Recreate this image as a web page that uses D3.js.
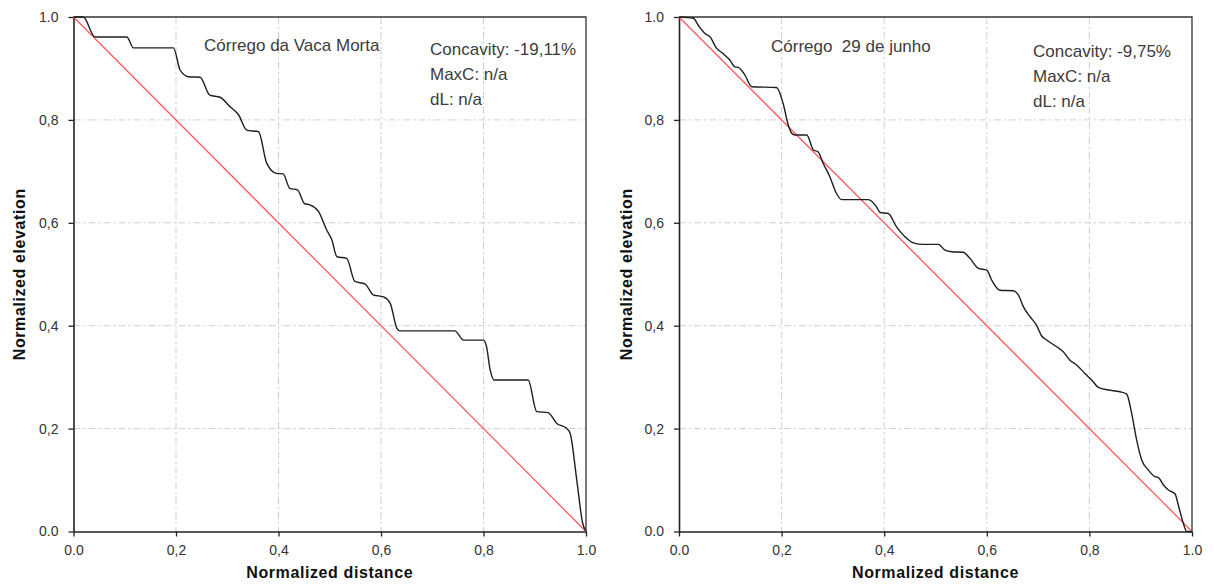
<!DOCTYPE html>
<html>
<head>
<meta charset="utf-8">
<script src="https://cdn.jsdelivr.net/npm/d3@7/dist/d3.min.js"></script>
<style>
  html, body { margin: 0; padding: 0; background: #fff; }
  svg { display: block; font-family: "Liberation Sans", Arial, sans-serif; }
</style>
</head>
<body>
<svg id="chart" width="1214" height="587"></svg>
<script>
// Normalized longitudinal profiles of two streams (distance vs. elevation)
const tickValues = [0, 0.2, 0.4, 0.6, 0.8, 1.0];
const tickLabels = ["0.0", "0,2", "0,4", "0,6", "0,8", "1.0"];

const vacaMortaX = [0, 0.019, 0.042, 0.104, 0.117, 0.195, 0.208, 0.224, 0.247, 0.266, 0.286, 0.305, 0.322, 0.338, 0.361, 0.377, 0.396, 0.409, 0.422, 0.437, 0.451, 0.461, 0.478, 0.494, 0.504, 0.514, 0.533, 0.549, 0.569, 0.585, 0.605, 0.618, 0.631, 0.637, 0.744, 0.761, 0.800, 0.806, 0.813, 0.821, 0.887, 0.904, 0.926, 0.943, 0.962, 0.969, 0.982, 0.9935, 1.0];
const vacaMortaY = [1.0, 1.0, 0.961, 0.961, 0.940, 0.940, 0.897, 0.884, 0.883, 0.848, 0.844, 0.826, 0.810, 0.780, 0.777, 0.716, 0.696, 0.695, 0.667, 0.664, 0.637, 0.635, 0.622, 0.586, 0.567, 0.534, 0.531, 0.486, 0.481, 0.460, 0.456, 0.4435, 0.395, 0.390, 0.390, 0.372, 0.372, 0.359, 0.314, 0.2945, 0.2945, 0.233, 0.231, 0.210, 0.2006, 0.191, 0.100, 0.016, 0.0];

const junhoX = [0, 0.028, 0.0376, 0.0507, 0.060, 0.0734, 0.086, 0.0994, 0.109, 0.1156, 0.1286, 0.1417, 0.190, 0.203, 0.213, 0.2196, 0.226, 0.249, 0.262, 0.271, 0.281, 0.294, 0.307, 0.317, 0.369, 0.385, 0.392, 0.408, 0.424, 0.4405, 0.4567, 0.476, 0.5055, 0.5185, 0.5316, 0.554, 0.567, 0.5834, 0.600, 0.6095, 0.6257, 0.6517, 0.6614, 0.6712, 0.6842, 0.697, 0.707, 0.7167, 0.736, 0.749, 0.762, 0.775, 0.7914, 0.8045, 0.8174, 0.8369, 0.8596, 0.8727, 0.8824, 0.8921, 0.902, 0.9149, 0.928, 0.934, 0.9444, 0.954, 0.967, 0.9733, 0.983, 0.9896, 1.0];
const junhoY = [1.0, 0.9975, 0.984, 0.968, 0.962, 0.939, 0.929, 0.916, 0.903, 0.902, 0.887, 0.8645, 0.863, 0.832, 0.790, 0.774, 0.7707, 0.7707, 0.7415, 0.738, 0.7157, 0.6896, 0.657, 0.645, 0.645, 0.631, 0.620, 0.618, 0.592, 0.573, 0.561, 0.558, 0.558, 0.547, 0.5438, 0.5427, 0.531, 0.5116, 0.508, 0.4888, 0.469, 0.468, 0.4597, 0.437, 0.4175, 0.401, 0.380, 0.3722, 0.359, 0.3495, 0.333, 0.3236, 0.307, 0.2945, 0.280, 0.275, 0.2717, 0.267, 0.2297, 0.178, 0.139, 0.1195, 0.1065, 0.1053, 0.0904, 0.0807, 0.0729, 0.0515, 0.016, 0.0, 0.0];

const referenceX = [0, 1];
const referenceY = [1, 0];

const panels = [
  { title: "Córrego da Vaca Morta", xs: vacaMortaX, ys: vacaMortaY,
    stats: ["Concavity: -19,11%", "MaxC: n/a", "dL: n/a"],
    left: 73.5, right: 586, titleX: 204, titleY: 51, statsX: 430, statsY: 55, yLabelX: 25 },
  { title: "Córrego  29 de junho", xs: junhoX, ys: junhoY,
    stats: ["Concavity: -9,75%", "MaxC: n/a", "dL: n/a"],
    left: 679, right: 1192, titleX: 771, titleY: 52, statsX: 1033, statsY: 57, yLabelX: 632 }
];

const plotTop = 17, plotBottom = 531.5;
const svg = d3.select("#chart");

panels.forEach(p => {
  const x = d3.scaleLinear().domain([0, 1]).range([p.left, p.right]);
  const y = d3.scaleLinear().domain([0, 1]).range([plotBottom, plotTop]);
  const g = svg.append("g");

  // dash-dot grid
  const inner = tickValues.filter(v => v > 0 && v < 1);
  g.selectAll(".gx").data(inner).join("line")
    .attr("x1", d => x(d)).attr("x2", d => x(d))
    .attr("y1", plotTop).attr("y2", plotBottom)
    .attr("stroke", "#cfcfcf").attr("stroke-width", 1)
    .attr("stroke-dasharray", "7,3,2,3");
  g.selectAll(".gy").data(inner).join("line")
    .attr("y1", d => y(d)).attr("y2", d => y(d))
    .attr("x1", p.left).attr("x2", p.right)
    .attr("stroke", "#cfcfcf").attr("stroke-width", 1)
    .attr("stroke-dasharray", "7,3,2,3");

  // top and right frame
  g.append("path")
    .attr("d", `M${p.left},${plotTop}H${p.right}V${plotBottom}`)
    .attr("fill", "none").attr("stroke", "#333").attr("stroke-width", 1.3);

  // axes
  const fmt = d => tickLabels[tickValues.indexOf(d)];
  const ax = g.append("g").attr("transform", `translate(0,${plotBottom})`)
    .call(d3.axisBottom(x).tickValues(tickValues).tickFormat(fmt).tickSizeInner(5).tickSizeOuter(0).tickPadding(9));
  const ay = g.append("g").attr("transform", `translate(${p.left},0)`)
    .call(d3.axisLeft(y).tickValues(tickValues).tickFormat(fmt).tickSizeInner(5).tickSizeOuter(0).tickPadding(10));
  [ax, ay].forEach(a => {
    a.select(".domain").attr("stroke", "#222").attr("stroke-width", 1.6);
    a.selectAll(".tick line").attr("stroke", "#222").attr("stroke-width", 1.3);
    a.selectAll(".tick text").attr("fill", "#333").style("font-size", "14px")
      .style("font-family", "'Liberation Sans', Arial, sans-serif");
  });

  // reference line
  const line = d3.line().x(d => x(d[0])).y(d => y(d[1]));
  g.append("path")
    .attr("d", line(d3.zip(referenceX, referenceY)))
    .attr("fill", "none").attr("stroke", "#ff5a5a").attr("stroke-width", 1.3);

  // profile
  const prof = d3.line().x(d => x(d[0])).y(d => y(d[1])).curve(d3.curveMonotoneX);
  g.append("path")
    .attr("d", prof(d3.zip(p.xs, p.ys)))
    .attr("fill", "none").attr("stroke", "#1e1e1e").attr("stroke-width", 1.4);

  // texts
  g.append("text").attr("x", p.titleX).attr("y", p.titleY)
    .attr("fill", "#3c3c3c").style("font-size", "17px").style("white-space", "pre")
    .text(p.title);
  g.selectAll(".stat").data(p.stats).join("text")
    .attr("x", p.statsX).attr("y", (d, i) => p.statsY + i * 25)
    .attr("fill", "#3c3c3c").style("font-size", "17px")
    .text(d => d);

  g.append("text")
    .attr("x", (p.left + p.right) / 2).attr("y", 578)
    .attr("text-anchor", "middle").attr("fill", "#111")
    .style("font-size", "16px").style("font-weight", "bold").style("letter-spacing", "0.6px")
    .text("Normalized distance");
  g.append("text")
    .attr("transform", `translate(${p.yLabelX},${(plotTop + plotBottom) / 2}) rotate(-90)`)
    .attr("text-anchor", "middle").attr("fill", "#111")
    .style("font-size", "16px").style("font-weight", "bold").style("letter-spacing", "0.6px")
    .text("Normalized elevation");
});
</script>
</body>
</html>
